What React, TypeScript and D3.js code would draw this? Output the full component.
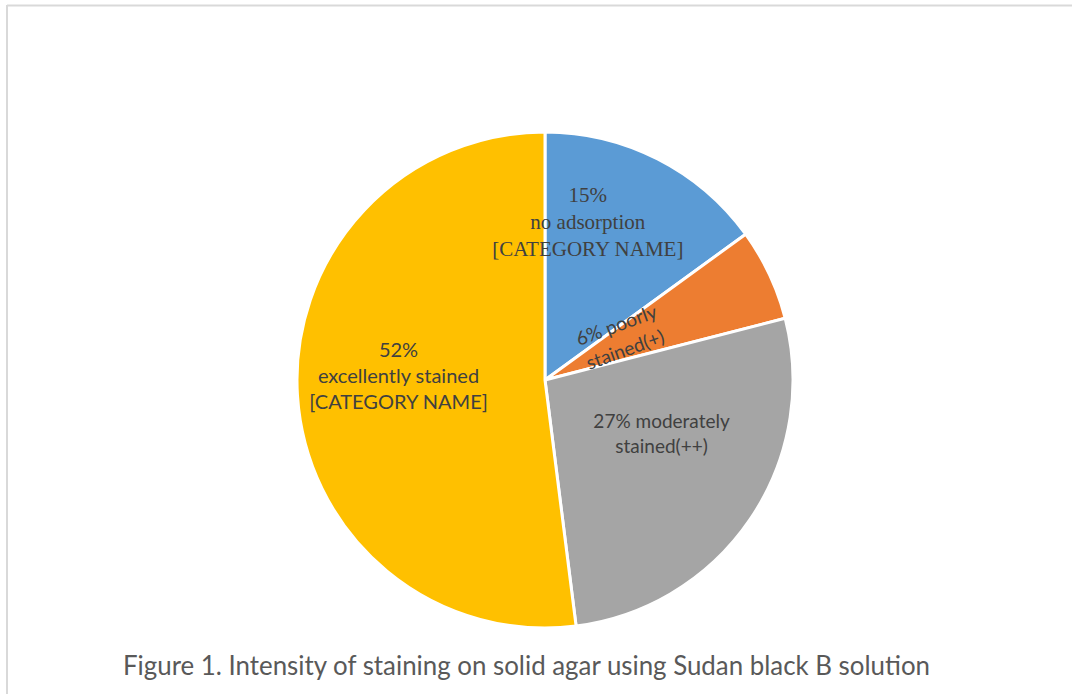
import * as d3 from "d3";

const categories = ["no adsorption", "poorly stained(+)", "moderately stained(++)", "excellently stained"];
const values = [15, 6, 27, 52];
const colors = ["#5B9BD5", "#ED7D31", "#A5A5A5", "#FFC000"];
const labelLines = [
  ["15%", "no adsorption", "[CATEGORY NAME]"],
  ["6% poorly", "stained(+)"],
  ["27% moderately", "stained(++)"],
  ["52%", "excellently stained", "[CATEGORY NAME]"],
];
const title = "Figure 1. Intensity of staining on solid agar using Sudan black B solution";

const W = 1072;
const H = 694;
const cx = 545;
const cy = 380;
const R = 248;

const sans = "Lato, 'Open Sans', sans-serif";
// label placement tweaks (layout only)
const labelLayout = [
  { rf: 0.62, dx: -27, dy: -20, rot: 0, font: "'Liberation Serif', 'Times New Roman', serif", size: 21, lh: 27 },
  { rf: 0.33, dx: 2, dy: -7, rot: -20, font: sans, size: 19, lh: 26 },
  { rf: 0.5, dx: 14, dy: -15, rot: 0, font: sans, size: 19, lh: 25 },
  { rf: 0.6, dx: 2, dy: -12, rot: 0, font: sans, size: 20, lh: 26 },
];

export default function App() {
  const pie = d3.pie<number>().sort(null).value(d => d);
  const arcs = pie(values);
  const arc = d3.arc<d3.PieArcDatum<number>>().innerRadius(0).outerRadius(R);

  return (
    <svg width={W} height={H} style={{ position: "absolute", left: 0, top: 0, background: "#fff" }}>
      <line x1={7} y1={5.5} x2={W} y2={5.5} stroke="#d9d9d9" strokeWidth={2} />
      <line x1={7} y1={5} x2={7} y2={H} stroke="#d9d9d9" strokeWidth={2} />
      <g transform={`translate(${cx},${cy})`}>
        {arcs.map((a, i) => (
          <path key={categories[i]} d={arc(a) ?? ""} fill={colors[i]} stroke="#fff" strokeWidth={3} strokeLinejoin="round" />
        ))}
        {arcs.map((a, i) => {
          const L = labelLayout[i];
          const [x, y] = d3.arc<d3.PieArcDatum<number>>().innerRadius(0).outerRadius(R * L.rf * 2).centroid(a);
          const lines = labelLines[i];
          const tx = x + L.dx;
          const ty = y + L.dy;
          return (
            <text
              key={"l" + i}
              transform={`translate(${tx},${ty}) rotate(${L.rot})`}
              textAnchor="middle"
              fontFamily={L.font}
              fontSize={L.size}
              fill="#404040"
            >
              {lines.map((t, j) => (
                <tspan key={j} x={0} y={(j - (lines.length - 1) / 2) * L.lh + 6}>{t}</tspan>
              ))}
            </text>
          );
        })}
      </g>
      <text
        x={526.5}
        y={675}
        textAnchor="middle"
        fontFamily={sans}
        fontSize={27}
        textLength={807}
        lengthAdjust="spacingAndGlyphs"
        fill="#595959"
      >
        {title}
      </text>
    </svg>
  );
}
